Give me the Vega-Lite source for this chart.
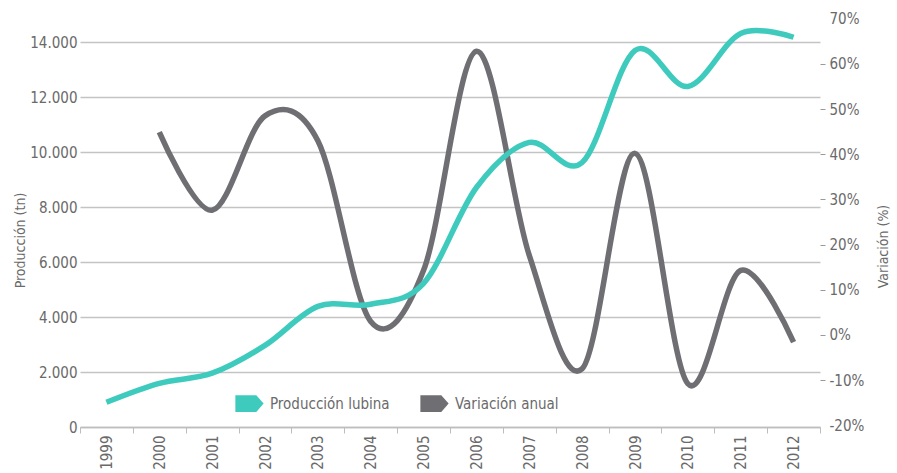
{
  "$schema": "https://vega.github.io/schema/vega-lite/v6.json",
  "width": 740,
  "height": 412,
  "autosize": {"type": "none"},
  "padding": {"left": 80, "top": 15, "right": 77, "bottom": 46},
  "config": {
    "view": {"stroke": null},
    "font": "DejaVu Sans Condensed",
    "axis": {"labelColor": "#6a6a6a", "titleColor": "#6a6a6a", "titleFontWeight": "normal", "labelFontSize": 15, "titleFontSize": 14}
  },
  "data": {
    "values": [
      {"year": "1999", "produccion": 900, "variacion": null},
      {"year": "2000", "produccion": 1590, "variacion": 44.9},
      {"year": "2001", "produccion": 1960, "variacion": 27.6},
      {"year": "2002", "produccion": 2970, "variacion": 48.5},
      {"year": "2003", "produccion": 4390, "variacion": 43},
      {"year": "2004", "produccion": 4470, "variacion": 3},
      {"year": "2005", "produccion": 5230, "variacion": 14.3},
      {"year": "2006", "produccion": 8720, "variacion": 62.8},
      {"year": "2007", "produccion": 10360, "variacion": 17.6},
      {"year": "2008", "produccion": 9630, "variacion": -7.5},
      {"year": "2009", "produccion": 13710, "variacion": 40.2},
      {"year": "2010", "produccion": 12400, "variacion": -10.8},
      {"year": "2011", "produccion": 14330, "variacion": 14.3},
      {"year": "2012", "produccion": 14190, "variacion": -1.6}
    ]
  },
  "encoding": {
    "x": {
      "field": "year",
      "type": "ordinal",
      "bandPosition": 0.5,
      "scale": {"type": "band", "paddingInner": 0, "paddingOuter": 0},
      "axis": {
        "title": null,
        "tickBand": "extent",
        "labelAngle": 270,
        "labelAlign": "right",
        "labelBaseline": "middle",
        "domainColor": "#bdbdbd",
        "domainWidth": 1.5,
        "tickColor": "#bdbdbd",
        "tickWidth": 1,
        "tickSize": 6,
        "labelPadding": 2,
        "grid": false
      }
    }
  },
  "layer": [
    {
      "mark": {"type": "line", "interpolate": "cardinal", "strokeWidth": 5.5},
      "encoding": {
        "y": {
          "field": "variacion",
          "type": "quantitative",
          "scale": {"domain": [-20.38, 70.84], "nice": false, "zero": false},
          "axis": {
            "orient": "right",
            "values": [-20, -10, 0, 10, 20, 30, 40, 50, 60, 70],
            "labelExpr": "datum.value + '%'",
            "grid": false,
            "domain": false,
            "tickSize": 5,
            "tickColor": "#9a9a9a",
            "tickOpacity": {"condition": {"test": "datum.value == 70 || datum.value == -20", "value": 0}, "value": 1},
            "labelPadding": 4,
            "title": "Variación (%)",
            "titleAngle": 270,
            "titleX": 63,
            "titleY": 231,
            "titleAlign": "center",
            "titleBaseline": "middle"
          }
        },
        "color": {
          "datum": "Variación anual",
          "type": "nominal",
          "scale": {"domain": ["Producción lubina", "Variación anual"], "range": ["#3ecbbe", "#6f6e73"]},
          "legend": {
            "orient": "none",
            "legendX": 155,
            "legendY": 374,
            "direction": "horizontal",
            "title": null,
            "symbolType": "M-1,-0.59L0.48,-0.59L1,0L0.48,0.59L-1,0.59Z",
            "symbolSize": 800,
            "symbolStrokeWidth": 0,
            "labelFontSize": 15,
            "labelColor": "#6a6a6a",
            "labelOffset": 6,
            "columnPadding": 30,
            "padding": 0,
            "encode": {"symbols": {"update": {"fill": {"scale": "color", "field": "value"}, "fillOpacity": {"value": 1}, "strokeWidth": {"value": 0}}}}
          }
        }
      }
    },
    {
      "mark": {"type": "line", "interpolate": "cardinal", "strokeWidth": 5.5},
      "encoding": {
        "y": {
          "field": "produccion",
          "type": "quantitative",
          "scale": {"domain": [0, 15000], "nice": false},
          "axis": {
            "orient": "left",
            "values": [0, 2000, 4000, 6000, 8000, 10000, 12000, 14000],
            "labelExpr": "replace(format(datum.value, ','), ',', '.')",
            "grid": true,
            "gridColor": "#c4c4c4",
            "gridWidth": 1.5,
            "domain": false,
            "ticks": false,
            "labelPadding": 3,
            "title": "Producción (tn)",
            "titleAngle": 270,
            "titleX": -60,
            "titleY": 225,
            "titleAlign": "center",
            "titleBaseline": "middle"
          }
        },
        "color": {
          "datum": "Producción lubina",
          "type": "nominal"
        }
      }
    }
  ],
  "resolve": {"scale": {"y": "independent"}}
}
